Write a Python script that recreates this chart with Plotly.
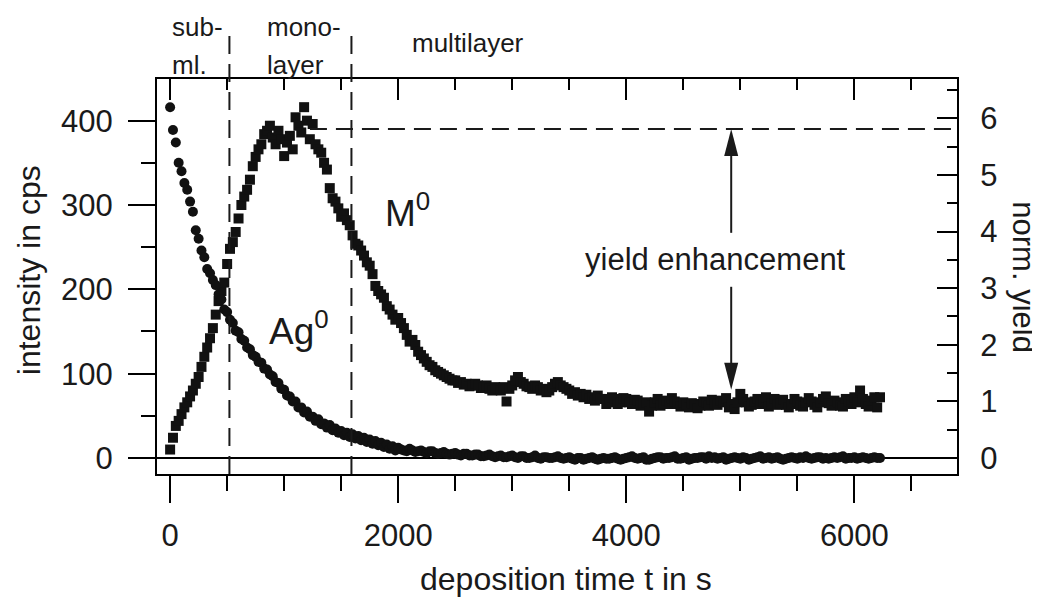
import plotly.graph_objects as go

# deposition time in s
time_s = [
    0, 25, 50, 75, 100, 125, 150, 175, 200, 225, 250, 275, 300, 325, 350, 375,
    400, 425, 450, 475, 500, 525, 550, 575, 600, 625, 650, 675, 700, 725, 750, 775,
    800, 825, 850, 875, 900, 925, 950, 975, 1000, 1025, 1050, 1075, 1100, 1125, 1150, 1175,
    1200, 1225, 1250, 1275, 1300, 1325, 1350, 1375, 1400, 1425, 1450, 1475, 1500, 1525, 1550, 1575,
    1600, 1625, 1650, 1675, 1700, 1725, 1750, 1775, 1800, 1825, 1850, 1875, 1900, 1925, 1950, 1975,
    2000, 2025, 2050, 2075, 2100, 2125, 2150, 2175, 2200, 2225, 2250, 2275, 2300, 2325, 2350, 2375,
    2400, 2425, 2450, 2475, 2500, 2525, 2550, 2575, 2600, 2625, 2650, 2675, 2700, 2725, 2750, 2775,
    2800, 2825, 2850, 2875, 2900, 2925, 2950, 2975, 3000, 3025, 3050, 3075, 3100, 3125, 3150, 3175,
    3200, 3225, 3250, 3275, 3300, 3325, 3350, 3375, 3400, 3425, 3450, 3475, 3500, 3525, 3550, 3575,
    3600, 3625, 3650, 3675, 3700, 3725, 3750, 3775, 3800, 3825, 3850, 3875, 3900, 3925, 3950, 3975,
    4000, 4025, 4050, 4075, 4100, 4125, 4150, 4175, 4200, 4225, 4250, 4275, 4300, 4325, 4350, 4375,
    4400, 4425, 4450, 4475, 4500, 4525, 4550, 4575, 4600, 4625, 4650, 4675, 4700, 4725, 4750, 4775,
    4800, 4825, 4850, 4875, 4900, 4925, 4950, 4975, 5000, 5025, 5050, 5075, 5100, 5125, 5150, 5175,
    5200, 5225, 5250, 5275, 5300, 5325, 5350, 5375, 5400, 5425, 5450, 5475, 5500, 5525, 5550, 5575,
    5600, 5625, 5650, 5675, 5700, 5725, 5750, 5775, 5800, 5825, 5850, 5875, 5900, 5925, 5950, 5975,
    6000, 6025, 6050, 6075, 6100, 6125, 6150, 6175, 6200, 6225,
]

# Ag0 intensity in cps (circles)
ag0_cps = [
    416, 389, 374, 350, 340, 326, 318, 304, 292, 270, 260, 246, 238, 224, 219, 211,
    205, 194, 188, 176, 173, 164, 160, 151, 149, 141, 139, 131, 129, 122, 120, 114,
    113, 106, 105, 99, 97, 90, 89, 82, 81, 74, 73, 67, 67, 60, 60, 54,
    55, 49, 49, 44, 46, 40, 41, 36, 39, 33, 35, 30, 32, 27, 30, 25,
    28, 23, 26, 21, 24, 19, 22, 17, 20, 15, 18, 13, 16, 11, 14, 9,
    12,
    10, 9, 8, 11, 9, 7, 8, 9, 7, 6, 8, 8, 6, 5, 6, 7,
    5, 4, 5, 6, 4, 3, 5, 5, 3, 3, 4, 4, 2, 2, 3, 4,
    2, 1, 2, 3, 1, 1, 2, 3, 1, 0, 2, 2, 0, 0, 1, 3,
    0, -1, 1, 1, 0, 0, 1, 2, 0, -1, 0, 1, -1, -2, 0, 0,
    -2, -1, 0, 1, -1, -2, -1, 0, -1, -1, 0, 1, -1, -2, -1, 0,
    1, 2, 0, -1, 0, 1, -2, -2, -1, 0, 1, 1, -1, 0, 0, 1,
    2, -1, -1, 0, 1, -2, -1, 0, 0, 1, 1, -1, 2, 0, 1, -1,
    0, 1, -2, -1, 0, 1, 0, -1, 1, 0, -2, -1, 0, 1, 2, -1,
    0, 1, -1, 0, 1, -1, -2, -1, 0, 1, 0, -1, 1, 0, 2, 0,
    -1, 0, 1, 1, -1, 0, -1, 0, 1, 0, 1, 2, -1, 0, 0, 1,
    -1, 0, 1, 0, -1, 0, 1, 0, 0,
]

# M0 intensity in cps (squares)
m0_cps = [
    10, 24, 38, 44, 52, 60, 66, 73, 80, 88, 96, 108, 120, 131, 142, 154,
    170, 186, 198, 208, 230, 248, 256, 268, 284, 300, 310, 318, 330, 346, 357, 366,
    372, 384, 388, 394, 380, 372, 388, 378, 358, 374, 382, 366, 404, 394, 386, 416,
    400, 378, 396, 372, 366, 362, 350, 342, 320, 308, 304, 296, 286, 290, 282, 276,
    264, 254, 252, 246, 240, 232, 228, 218, 204, 198, 194, 190, 180, 176, 170, 164,
    166,
    160, 154, 146, 138, 140, 134, 126, 122, 118, 114, 110, 108, 104, 102, 100, 98,
    96, 94, 92, 92, 89, 90, 87, 88, 85, 86, 88, 86, 83, 84, 86, 82,
    80, 84, 82, 80, 84, 67, 82, 86, 92, 96, 90, 88, 85, 84, 82, 86,
    84, 80, 82, 78, 80, 84, 88, 90, 86, 84, 82, 80, 76, 78, 74, 76,
    72, 75, 70, 72, 68, 74, 70, 70, 64, 66, 72, 70, 64, 66, 71, 70,
    66, 64, 69, 68, 62, 64, 66, 55, 62, 66, 70, 62, 65, 68, 64, 71,
    67, 64, 61, 66, 63, 60, 65, 64, 59, 62, 67, 66, 62, 69, 65, 63,
    68, 66, 71, 60, 64, 58, 66, 76, 70, 66, 61, 63, 67, 70, 64, 67,
    72, 61, 65, 70, 63, 65, 69, 63, 60, 64, 70, 67, 62, 61, 66, 71,
    67, 63, 60, 66, 70, 73, 65, 62, 68, 66, 62, 61, 70, 67, 64, 72,
    66, 80, 70, 64, 61, 68, 72, 60, 72,
]

cps_per_norm = 67.1           # 1 unit of normalized yield in cps
regime_edges_s = [520, 1590]  # sub-ml. | monolayer | multilayer
peak_cps = 390
arrow_time_s = 4920
arrow_top_tail_cps = 267
arrow_bottom_tail_cps = 203
asymptote_cps = 81

FONT = "Liberation Sans, Arial, sans-serif"
INK = "#1a1a1a"
x_range = [-115, 6900]
y_range = [-19, 449.4]
y2_range = [-0.282, 6.693]

fig = go.Figure()

fig.add_trace(
    go.Scatter(
        x=time_s,
        y=m0_cps,
        mode="markers",
        marker=dict(symbol="square", size=10, color="#111111", line=dict(width=0)),
        name="M0",
        showlegend=False,
    )
)
fig.add_trace(
    go.Scatter(
        x=time_s,
        y=ag0_cps,
        mode="markers",
        marker=dict(symbol="circle", size=10, color="#111111", line=dict(width=0)),
        name="Ag0",
        showlegend=False,
    )
)
# invisible copy on the normalized axes so the top / right axes get drawn
fig.add_trace(
    go.Scatter(
        x=time_s,
        y=[v / cps_per_norm for v in m0_cps],
        xaxis="x2",
        yaxis="y2",
        mode="markers",
        marker=dict(opacity=0),
        hoverinfo="skip",
        showlegend=False,
    )
)

axis_common = dict(
    showgrid=False,
    showline=True,
    linecolor="black",
    linewidth=2,
    tickcolor="black",
    tickwidth=2,
    tickfont=dict(family=FONT, size=31, color=INK),
)

# the page body adds an 8 px offset, so the figure is 8 px smaller than the window
fig.update_layout(
    width=1032,
    height=589,
    margin=dict(l=149, r=83, t=71, b=123),
    plot_bgcolor="white",
    paper_bgcolor="white",
    xaxis=dict(
        **axis_common,
        range=x_range,
        tick0=0,
        dtick=2000,
        ticks="outside",
        ticklen=27,
        ticklabelstandoff=6,
        zeroline=False,
        minor=dict(dtick=500, tick0=0, ticks="outside", ticklen=15,
                   tickcolor="black", tickwidth=2),
    ),
    xaxis2=dict(
        **axis_common,
        matches="x",
        overlaying="x",
        anchor="y",
        side="top",
        tick0=0,
        dtick=2000,
        ticks="inside",
        ticklen=21,
        showticklabels=False,
        zeroline=False,
        minor=dict(dtick=500, tick0=0, ticks="inside", ticklen=11,
                   tickcolor="black", tickwidth=2),
    ),
    yaxis=dict(
        **axis_common,
        range=y_range,
        tick0=0,
        dtick=100,
        ticks="outside",
        ticklen=27,
        ticklabelstandoff=9,
        zeroline=True,
        zerolinecolor="black",
        zerolinewidth=2,
        minor=dict(dtick=50, tick0=0, ticks="outside", ticklen=14,
                   tickcolor="black", tickwidth=2),
    ),
    yaxis2=dict(
        **axis_common,
        range=y2_range,
        overlaying="y",
        anchor="x",
        side="right",
        tick0=0,
        dtick=1,
        ticks="inside",
        ticklen=20,
        ticklabelstandoff=15,
        zeroline=False,
        minor=dict(dtick=0.5, tick0=0, ticks="inside", ticklen=10,
                   tickcolor="black", tickwidth=2),
    ),
)

dash = dict(color=INK, width=2, dash="18px,10px")
for edge in regime_edges_s:
    fig.add_shape(type="line", xref="x", yref="paper", x0=edge, x1=edge,
                  y0=0, y1=1.129, line=dash)
fig.add_shape(type="line", xref="x", yref="y", x0=1226, x1=x_range[1],
              y0=peak_cps, y1=peak_cps, line=dict(color=INK, width=2, dash="17px,9px"))

# yield-enhancement arrows
shaft = dict(color=INK, width=2)
fig.add_shape(type="line", xref="x", yref="y", x0=arrow_time_s, x1=arrow_time_s,
              y0=arrow_top_tail_cps, y1=peak_cps - 20, line=shaft)
fig.add_shape(type="line", xref="x", yref="y", x0=arrow_time_s, x1=arrow_time_s,
              y0=arrow_bottom_tail_cps, y1=asymptote_cps + 20, line=shaft)
fig.add_shape(type="path", xref="x", yref="y", xsizemode="pixel", ysizemode="pixel",
              xanchor=arrow_time_s, yanchor=peak_cps,
              path="M0,0 L-7,-27 L7,-27 Z", fillcolor=INK, line=dict(width=0))
fig.add_shape(type="path", xref="x", yref="y", xsizemode="pixel", ysizemode="pixel",
              xanchor=arrow_time_s, yanchor=asymptote_cps,
              path="M0,0 L-7,27 L7,27 Z", fillcolor=INK, line=dict(width=0))


def label(text, x, y, size, xref="paper", yref="paper", xanchor="left",
          yanchor="middle", angle=0):
    fig.add_annotation(text=text, x=x, y=y, xref=xref, yref=yref,
                       xanchor=xanchor, yanchor=yanchor, textangle=angle,
                       showarrow=False, font=dict(family=FONT, size=size, color=INK))


label("sub-", 0.0162, 1.1316, 26)
label("ml.", 0.0162, 1.0357, 26)
label("mono-", 0.1348, 1.1316, 26)
label("layer", 0.1348, 1.0357, 26)
label("multilayer", 0.3159, 1.0911, 26)

label("M<sup>0</sup>", 1866, 293, 37, xref="x", yref="y")
label("Ag<sup>0</sup>", 850, 153, 37, xref="x", yref="y")
label("yield enhancement", 4782, 235, 31, xref="x", yref="y", xanchor="center")

label("intensity in cps", -0.160, 0.516, 32, xanchor="center", angle=-90)
label("norm. yield", 1.083, 0.497, 31, xanchor="center", angle=90)
label("deposition time t in s", 0.511, -0.266, 32, xanchor="center")

fig.write_html("out.html")
